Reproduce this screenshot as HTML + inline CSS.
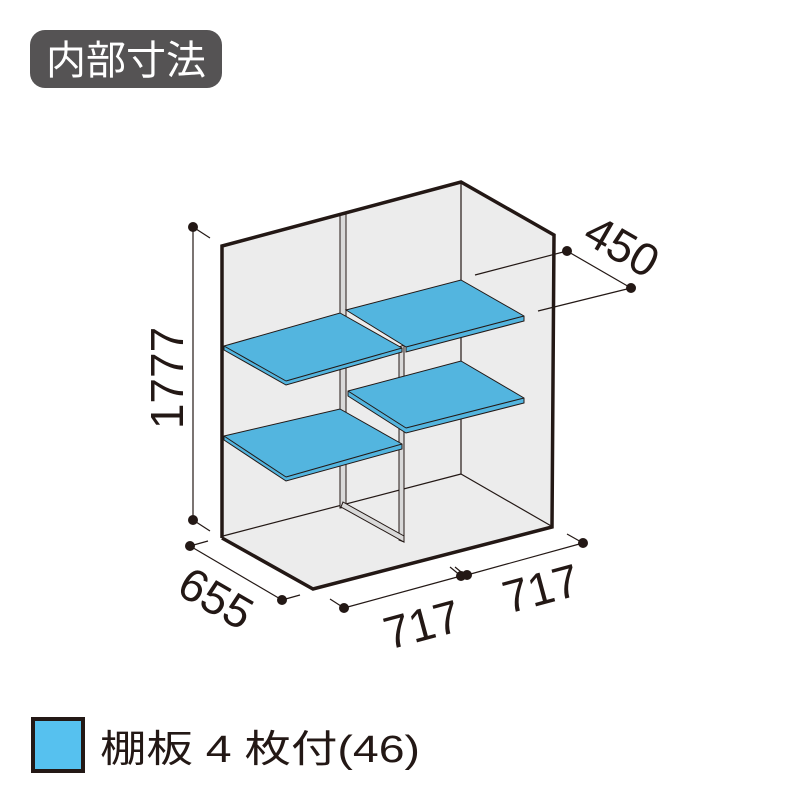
<!DOCTYPE html>
<html><head><meta charset="utf-8"><style>
html,body{margin:0;padding:0;background:#fff;}
svg{display:block;}
</style></head><body>
<svg width="800" height="801" viewBox="0 0 800 801" xmlns="http://www.w3.org/2000/svg">
<rect x="30" y="30" width="192" height="58" rx="15" fill="#555354"/>
<text x="126" y="74" text-anchor="middle" font-family="'Noto Sans CJK JP',sans-serif" font-size="40" fill="#fff">内部寸法</text>

<polygon points="222,246 461,182 554,235 552,527 313,589 222,538" fill="#ececec"/>
<g stroke="#231815" stroke-width="1.2" fill="none">
<line x1="461" y1="182" x2="461" y2="474"/>
<line x1="461" y1="474" x2="553" y2="527"/>
<line x1="461" y1="474" x2="223" y2="536"/>
</g>
<g stroke="#231815" stroke-width="1" fill="#d9d9d9">
<polygon points="340,214 346,212 346,507 340,508"/>
<polygon points="399,347 404,345 404,542 399,540"/>
<polygon points="343,502 404,536 404,542 341,507"/>
</g>
<g stroke="#231815" stroke-width="1" fill="#53b5df">
<polygon points="346,310 461,280 524,316 524,321 406,352 406,347"/>
<line x1="406" y1="347" x2="524" y2="316"/>
<polygon points="224,346 340,313 402,348 402,352 286,385 224,350"/>
<line x1="224" y1="346" x2="286" y2="381"/><line x1="286" y1="381" x2="402" y2="348"/>
<polygon points="348,391 461,361 524,398 524,403 406,433 348,396"/>
<line x1="348" y1="391" x2="406" y2="428"/><line x1="406" y1="428" x2="524" y2="398"/>
<polygon points="224,436 340,409 402,444 402,449 286,481 224,440"/>
<line x1="224" y1="436" x2="286" y2="477"/><line x1="286" y1="477" x2="402" y2="444"/>
</g>
<polyline points="222,538 222,246 461,182 554,235 552,527 313,589 222,538" fill="none" stroke="#231815" stroke-width="3.5" stroke-linejoin="miter"/>

<g stroke="#231815" stroke-width="1.2" fill="none">
<line x1="193" y1="227" x2="193" y2="520"/>
<line x1="193" y1="227" x2="210" y2="238"/>
<line x1="193" y1="520" x2="210" y2="531"/>
<line x1="475" y1="275" x2="567" y2="251"/>
<line x1="538" y1="311" x2="631" y2="288"/>
<line x1="567" y1="251" x2="631" y2="288"/>
<line x1="190" y1="546" x2="282" y2="600"/>
<line x1="190" y1="546" x2="208" y2="541"/>
<line x1="282" y1="600" x2="300" y2="595"/>
<line x1="344" y1="608" x2="461" y2="576"/>
<line x1="344" y1="608" x2="330" y2="599"/>
<line x1="467" y1="575" x2="583" y2="543"/>
<line x1="583" y1="543" x2="567" y2="534"/>
<line x1="461" y1="576" x2="450" y2="567"/>
<line x1="466" y1="576" x2="455" y2="567"/>
</g>
<g fill="#231815">
<circle cx="193" cy="227" r="5"/><circle cx="193" cy="520" r="5"/>
<circle cx="567" cy="251" r="5"/><circle cx="631" cy="288" r="5"/>
<circle cx="190" cy="546" r="5"/><circle cx="282" cy="600" r="5"/>
<circle cx="344" cy="608" r="5"/><circle cx="461" cy="576" r="5"/>
<circle cx="467" cy="575" r="5"/><circle cx="583" cy="543" r="5"/>
</g>
<g font-family="'Liberation Sans',sans-serif" font-size="46" fill="#231815" text-anchor="middle">
<text transform="translate(183,378) rotate(-90)">1777</text>
<text transform="translate(614,260) rotate(30)">450</text>
<text transform="translate(208,612) rotate(30)">655</text>
<text transform="translate(426,640) rotate(-15)">717</text>
<text transform="translate(545,604) rotate(-15)">717</text>
</g>

<rect x="33" y="719" width="50" height="52" fill="#56c1ef" stroke="#231815" stroke-width="4"/>
<text x="100" y="762" textLength="320" lengthAdjust="spacingAndGlyphs" font-family="'Liberation Sans','Noto Sans CJK JP',sans-serif" font-size="38" fill="#231815">棚板 4 枚付(46)</text>
</svg>
</body></html>
